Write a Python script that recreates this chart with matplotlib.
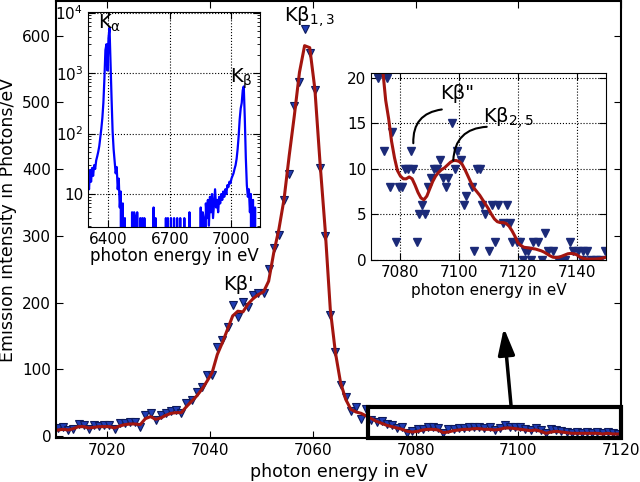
import numpy as np
import matplotlib
matplotlib.use("Agg")
import matplotlib.pyplot as plt
from matplotlib.patches import Rectangle

plt.rcParams['mathtext.default'] = 'regular'

# main spectrum: K-beta region, 1 eV bins
main_energy = 7010.4 + np.arange(110)
main_counts = [12, 13, 9, 11, 18, 17, 10, 17, 15, 17,
               17, 11, 19, 20, 21, 21, 14, 31, 34, 24,
               32, 34, 38, 39, 34, 49, 54, 66, 74, 91,
               91, 134, 144, 164, 196, 179, 201, 194, 211, 214,
               215, 251, 282, 301, 353, 393, 495, 531, 610, 574,
               518, 401, 300, 181, 126, 76, 59, 38, 44, 26,
               40, 24, 21, 22, 18, 17, 12, 14, 5, 8,
               11, 11, 14, 14, 12, 4, 10, 11, 12, 12,
               13, 13, 13, 12, 13, 9, 12, 16, 14, 14,
               13, 10, 9, 12, 9, 4, 11, 9, 8, 6,
               5, 6, 5, 6, 5, 6, 5, 6, 5, 3]
main_fit = [9, 10, 9, 11, 14, 14, 12, 13, 14, 14,
            14, 12, 15, 17, 18, 18, 17, 26, 29, 25,
            27, 31, 34, 35, 35, 44, 52, 60, 70, 82,
            95, 122, 140, 160, 180, 187, 186, 198, 206, 212,
            216, 232, 275, 310, 355, 420, 480, 545, 585, 582,
            520, 410, 310, 190, 125, 80, 55, 40, 36, 34,
            30, 26, 22, 19, 16, 14, 12, 10, 7, 6,
            7, 9, 10, 10, 9, 5, 6, 8, 9, 10,
            10, 11, 11, 10, 10, 9, 10, 12, 12, 11,
            10, 9, 8, 9, 7, 4, 6, 7, 6, 5,
            4, 4, 4, 4, 4, 4, 3, 4, 3, 3]

# overview spectrum (log inset), 5 eV bins from 6300 eV
log_energy = np.arange(6300, 7141, 5)
log_counts = [22, 12, 25, 16, 27, 20, 30, 26, 36, 42, 50, 62, 85, 120, 180, 320, 800, 2400, 3000, 1100,
              3800, 5600, 1400, 380, 110, 55, 35, 22, 28, 12, 18, 6, 11, 0, 7, 0, 4, 0, 0, 0,
              0, 0, 0, 5, 0, 5, 4, 0, 5, 0, 0, 4, 0, 4, 0, 4, 0, 0, 0, 0,
              0, 0, 0, 0, 6, 0, 4, 0, 0, 0, 0, 0, 0, 0, 0, 0, 4, 0, 4, 0,
              0, 4, 0, 0, 4, 0, 0, 4, 0, 0, 4, 0, 0, 0, 4, 0, 0, 0, 0, 5,
              0, 0, 0, 0, 0, 0, 0, 0, 0, 0, 6, 0, 5, 4, 0, 7, 4, 8, 3, 9,
              5, 10, 4, 7, 12, 6, 8, 5, 9, 7, 10, 8, 11, 9, 12, 10, 14, 13, 16, 15,
              18, 20, 22, 26, 30, 38, 55, 90, 170, 260, 320, 520, 600, 180, 40, 14, 9, 12, 5, 10,
              0, 8, 0, 6, 0, 0, 0, 0, 0]

# valence-to-core zoom inset
zoom_energy = [7072.5, 7074.4, 7075.5, 7076.5, 7077.3, 7078.4, 7079.6, 7080.5, 7081.6, 7082.7,
               7083.5, 7084.4, 7085.6, 7086.4, 7087.5, 7088.4, 7089.5, 7090.4, 7091.4, 7092.4,
               7093.5, 7094.6, 7095.5, 7096.3, 7097.5, 7098.6, 7099.4, 7100.7, 7101.5, 7102.5,
               7104.3, 7105.2, 7106.0, 7107.1, 7107.9, 7108.8, 7110.3, 7111.3, 7112.2, 7113.3,
               7115.0, 7116.2, 7117.3, 7117.9, 7119.6, 7120.7, 7121.6, 7122.4, 7123.5, 7124.6,
               7125.3, 7127.0, 7128.1, 7129.2, 7130.4, 7132.1, 7133.7, 7134.9, 7136.0, 7137.7,
               7138.9, 7140.5, 7141.7, 7142.2, 7143.5, 7145.0, 7146.5, 7148.0, 7149.7]
zoom_counts = [20, 12, 20, 8, 14, 2, 8, 8, 10, 10,
               12, 10, 2, 5, 6, 5, 8, 9, 10, 10,
               11, 9, 8, 9, 15, 10, 12, 11, 6, 7,
               8, 1, 10, 10, 6, 5, 1, 6, 2, 6,
               4, 6, 4, 2, 2, 2, 0, 1, 1, 0,
               2, 2, 0, 3, 1, 1, 0, 0, 0, 2,
               1, 1, 0, 1, 1, 0, 0, 0, 1]
zoom_fit_energy = np.arange(7070, 7151)
zoom_fit = [32, 29, 26, 23, 20.8, 17.5, 15.5, 13, 11.2, 9.8,
            9.2, 8.9, 8.9, 9.1, 8.9, 8.2, 7.4, 6.8, 6.6, 7.0,
            7.8, 8.6, 9.2, 9.6, 9.9, 10.1, 10.4, 10.7, 10.9, 10.9,
            10.8, 10.5, 9.9, 9.2, 8.5, 7.9, 7.5, 7.1, 6.6, 6.1,
            5.6, 5.0, 4.5, 4.2, 4.1, 4.1, 4.0, 3.7, 3.2, 2.6,
            1.9, 1.6, 1.4, 1.35, 1.3, 1.25, 1.2, 1.1, 1.0, 0.85,
            0.65, 0.45, 0.3, 0.28, 0.3, 0.42, 0.55, 0.68, 0.72, 0.68,
            0.58, 0.35, 0.2, 0.12, 0.1, 0.1, 0.1, 0.12, 0.15, 0.22,
            0.3]

red = '#a3150f'

fig = plt.figure(figsize=(6.4, 4.82), dpi=100)

# ---- main plot
ax = fig.add_axes([0.0875, 0.0913, 0.8828, 0.9067])
ax.plot(main_energy, main_counts, 'v', ms=6, mfc='#1f3cb4', mec='#0d1a5c', mew=0.8)
ax.plot(main_energy, main_fit, color=red, lw=2.2)
ax.set_xlim(7010, 7120)
ax.set_ylim(-3, 652)
ax.set_xticks([7020, 7040, 7060, 7080, 7100, 7120])
ax.set_yticks([0, 100, 200, 300, 400, 500, 600])
ax.tick_params(direction='in', top=True, right=True, length=5, labelsize=11)
for s in ax.spines.values():
    s.set_linewidth(1.5)
ax.set_xlabel('photon energy in eV', fontsize=12.5)
ax.set_ylabel('Emission intensity in Photons/eV', fontsize=12.5)
ax.text(7054.3, 621, 'Kβ$_{1,3}$', fontsize=14)
ax.text(7042.6, 219, "Kβ'", fontsize=14)

ax.add_patch(Rectangle((7070.8, -3), 49.2, 46.5, fill=False, lw=3, ec='k',
                       clip_on=False, zorder=5))
ax.annotate('', xy=(7097.2, 162), xytext=(7098.6, 45),
            arrowprops=dict(arrowstyle='-|>,head_length=0.8,head_width=0.25',
                            lw=2.5, color='k', mutation_scale=20,
                            shrinkA=0, shrinkB=0))

# ---- overview inset (log)
ax1 = fig.add_axes([0.1375, 0.529, 0.269, 0.446])
ax1.plot(log_energy, log_counts, color='#0000ff', lw=1.6)
ax1.set_yscale('log')
ax1.set_xlim(6300, 7140)
ax1.set_ylim(2.85, 1.02e4)
ax1.set_xticks([6400, 6700, 7000])
ax1.set_yticks([10, 100, 1000, 10000])
ax1.set_yticklabels(['10', '$10^2$', '$10^3$', '$10^4$'])
ax1.tick_params(direction='in', top=True, right=True, length=5, labelsize=11)
ax1.tick_params(which='minor', direction='in', top=True, right=True, length=2)
ax1.grid(True, ls=':', color='k', lw=0.8)
ax1.set_xlabel('photon energy in eV', fontsize=12, labelpad=0)
ax1.text(6351, 5500, r'K$_\alpha$', fontsize=14)
ax1.text(6995, 680, r'K$_\beta$', fontsize=14)

# ---- zoom inset (linear)
ax2 = fig.add_axes([0.5797, 0.4606, 0.3672, 0.388])
ax2.plot(zoom_energy, zoom_counts, 'v', ms=5.5, mfc='#1b2a78', mec='#1b2a78')
ax2.plot(zoom_fit_energy, zoom_fit, color=red, lw=2.2)
ax2.set_xlim(7070, 7150)
ax2.set_ylim(0, 20.5)
ax2.set_xticks([7080, 7100, 7120, 7140])
ax2.set_yticks([0, 5, 10, 15, 20])
ax2.tick_params(direction='in', top=True, right=True, length=5, labelsize=11)
ax2.grid(True, ls=':', color='k', lw=0.8)
ax2.set_xlabel('photon energy in eV', fontsize=11, labelpad=2)
ax2.text(7093.5, 17.6, 'Kβ"', fontsize=14)
ax2.text(7108.1, 15.1, 'Kβ$_{2,5}$', fontsize=14)
ax2.annotate('', xy=(7084.4, 12.8), xytext=(7094.1, 16.5),
             arrowprops=dict(arrowstyle='-', connectionstyle='arc3,rad=0.45',
                             lw=1.5, color='k', shrinkA=0, shrinkB=0))
ax2.annotate('', xy=(7098.0, 10.9), xytext=(7109.4, 14.6),
             arrowprops=dict(arrowstyle='-', connectionstyle='arc3,rad=0.45',
                             lw=1.5, color='k', shrinkA=0, shrinkB=0))

fig.savefig('out.png', dpi=100)
